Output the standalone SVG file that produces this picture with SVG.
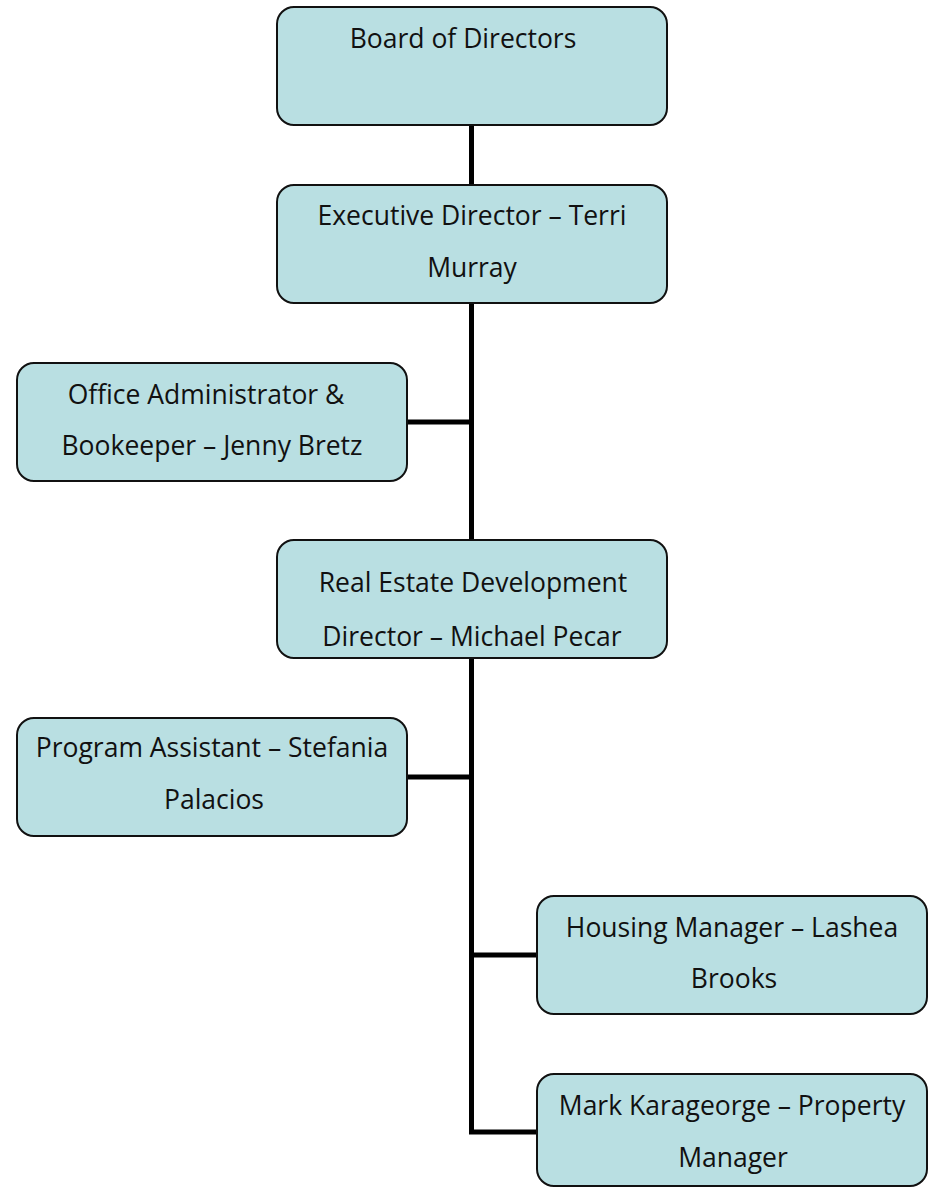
<svg xmlns="http://www.w3.org/2000/svg" width="930" height="1188" viewBox="0 0 930 1188">
<style>
.box{fill:#b9dfe2;stroke:#111;stroke-width:2}
.t{font-family:"Open Sans","Liberation Sans",sans-serif;font-size:26.5px;fill:#111;text-anchor:middle}
.c{fill:none;stroke:#000;stroke-width:5;stroke-linejoin:miter}
</style>
<rect width="930" height="1188" fill="#fff"/>
<g id="connectors">
<path class="c" d="M471.5 125V1132H537"/>
<path class="c" d="M407 422H471.5"/>
<path class="c" d="M407 777H471.5"/>
<path class="c" d="M471.5 955H537"/>
</g>
<g id="board">
<rect class="box" x="277" y="7" width="390" height="118" rx="17"/>
<text class="t" x="463" y="48">Board of Directors</text>
</g>
<g id="exec">
<rect class="box" x="277" y="185" width="390" height="118" rx="17"/>
<text class="t" x="472" y="225">Executive Director – Terri</text>
<text class="t" x="472" y="277">Murray</text>
</g>
<g id="office">
<rect class="box" x="17" y="363" width="390" height="118" rx="17"/>
<text class="t" x="206" y="404">Office Administrator &amp;</text>
<text class="t" x="212" y="455">Bookeeper – Jenny Bretz</text>
</g>
<g id="realestate">
<rect class="box" x="277" y="540" width="390" height="118" rx="17"/>
<text class="t" x="473" y="592">Real Estate Development</text>
<text class="t" x="472" y="646">Director – Michael Pecar</text>
</g>
<g id="program">
<rect class="box" x="17" y="718" width="390" height="118" rx="17"/>
<text class="t" x="212" y="757">Program Assistant – Stefania</text>
<text class="t" x="214" y="809">Palacios</text>
</g>
<g id="housing">
<rect class="box" x="537" y="896" width="390" height="118" rx="17"/>
<text class="t" x="732" y="937">Housing Manager – Lashea</text>
<text class="t" x="734" y="988">Brooks</text>
</g>
<g id="mark">
<rect class="box" x="537" y="1074" width="390" height="112" rx="17"/>
<text class="t" x="732" y="1115">Mark Karageorge – Property</text>
<text class="t" x="733" y="1167">Manager</text>
</g>
</svg>
